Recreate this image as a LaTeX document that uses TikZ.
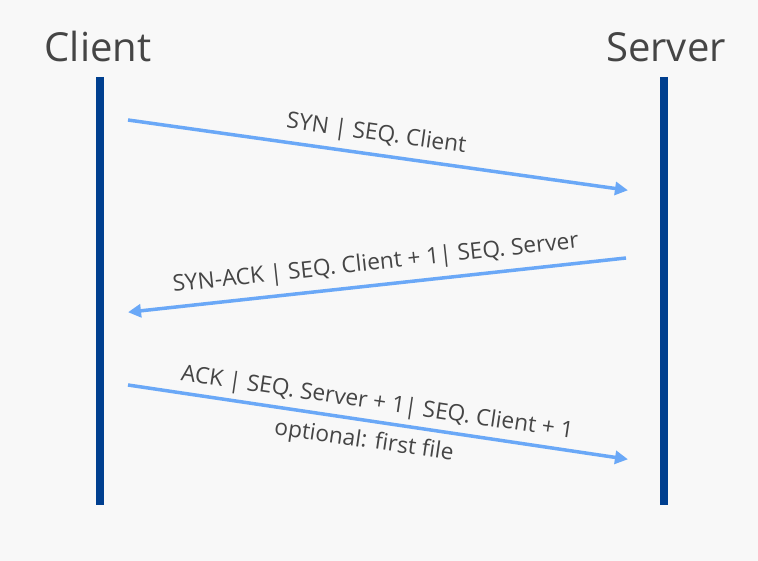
\documentclass[tikz,border=0pt]{standalone}
\usepackage{fontspec}
\setmainfont{Open Sans}
\usetikzlibrary{arrows.meta}
\definecolor{bgc}{HTML}{F8F8F8}
\definecolor{lifec}{HTML}{003F8F}
\definecolor{msgc}{HTML}{6AA8F7}
\definecolor{txtc}{HTML}{454545}
\tikzset{
  lifeline/.style={draw=lifec, line width=8pt},
  msg/.style={draw=msgc, line width=3.5pt, -{Triangle[length=13pt,width=13pt]}, shorten >=-2pt},
  title/.style={text=txtc, font=\fontsize{40}{48}\selectfont, inner sep=0pt},
  lbl/.style={text=txtc, font=\fontsize{22.7}{27}\selectfont, sloped, inner sep=0pt}
}
\begin{document}
\begin{tikzpicture}[x=1pt,y=-1pt]
\fill[bgc] (0,0) rectangle (758,561);
\useasboundingbox (0,0) rectangle (758,561);
\node[title] (client) at (98,47) {Client};
\node[title] (server) at (666,47) {Server};
\coordinate (ct) at (100,77);
\coordinate (cb) at (100,505);
\coordinate (st) at (664,77);
\coordinate (sb) at (664,505);
\draw[lifeline] (ct) -- (cb);
\draw[lifeline] (st) -- (sb);
\coordinate (m1a) at (128,120);
\coordinate (m1b) at (626,190);
\coordinate (m2a) at (626,258);
\coordinate (m2b) at (130,312);
\coordinate (m3a) at (128,385);
\coordinate (m3b) at (626,459);
\draw[msg] (m1a) -- node[lbl, above=7pt, pos=0.493] (l1) {SYN | SEQ. Client} (m1b);
\draw[msg] (m2a) -- node[lbl, above=8pt] (l2) {SYN-ACK | SEQ. Client + 1| SEQ. Server} (m2b);
\draw[msg] (m3a) -- node[lbl, above=5pt, pos=0.495] (l3) {ACK | SEQ. Server + 1| SEQ. Client + 1}
  node[lbl, below=8pt, pos=0.48] (l4) {optional: first file} (m3b);
\end{tikzpicture}
\end{document}
